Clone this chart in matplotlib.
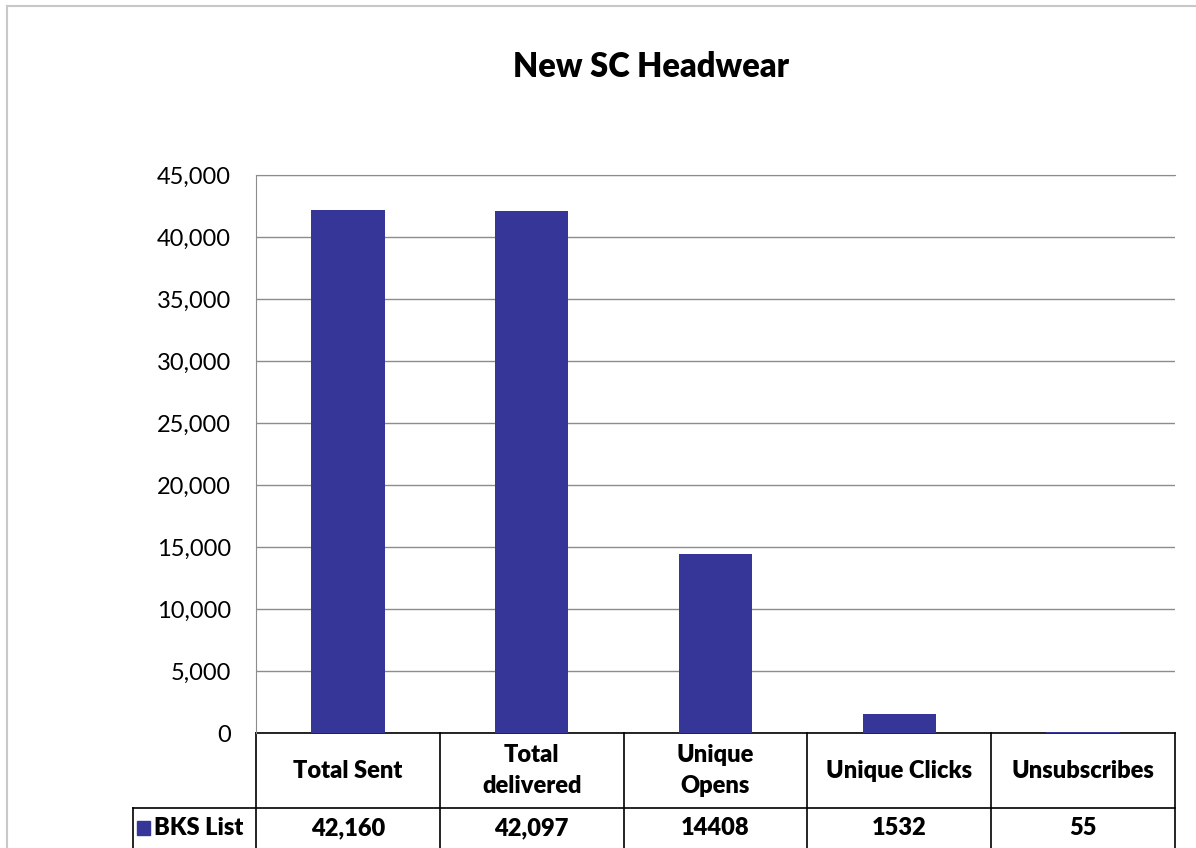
import matplotlib.pyplot as plt
from matplotlib.lines import Line2D
from matplotlib.patches import Rectangle
from matplotlib.ticker import FuncFormatter
from matplotlib.transforms import blended_transform_factory

plt.rcParams['font.family'] = ['Lato', 'DejaVu Sans']

# Data
title = "New SC Headwear"
categories = ["Total Sent", "Total\ndelivered", "Unique\nOpens", "Unique Clicks", "Unsubscribes"]
series_name = "BKS List"
values = [42160, 42097, 14408, 1532, 55]
table_labels = ["42,160", "42,097", "14408", "1532", "55"]
yticks = [0, 5000, 10000, 15000, 20000, 25000, 30000, 35000, 40000, 45000]

bar_color = "#363699"
grid_color = "#8c8c8c"
bold = 'heavy'

fig = plt.figure(figsize=(11.96, 8.48), dpi=100)

# outer chart border (only top and left visible)
fig.add_artist(Line2D([7 / 1196, 7 / 1196], [0, 1 - 6 / 848], color="#c8c8c8", lw=1.5))
fig.add_artist(Line2D([7 / 1196, 1], [1 - 6 / 848, 1 - 6 / 848], color="#c8c8c8", lw=1.5))

ax = fig.add_axes([256 / 1196, 115 / 848, 919 / 1196, 558 / 848])
x = list(range(len(categories)))
ax.bar(x, values, width=0.4, color=bar_color, zorder=3)
ax.set_xlim(-0.5, len(categories) - 0.5)
ax.set_ylim(0, 45000)
ax.set_yticks(yticks)
ax.yaxis.set_major_formatter(FuncFormatter(lambda v, p: f"{int(v):,}"))
ax.grid(axis='y', color=grid_color, lw=1, zorder=0)
ax.set_xticks([])
ax.tick_params(axis='y', length=0, pad=18, labelsize=17)
for s in ['right', 'bottom']:
    ax.spines[s].set_visible(False)
ax.spines['left'].set_color(grid_color)
ax.spines['top'].set_color(grid_color)

fig.text(651 / 1196, 1 - 67 / 848, title, ha='center', va='center',
         fontsize=23.5, fontweight=bold)

# data table under the plot
tr = blended_transform_factory(ax.transData, ax.transAxes)
px = 558.0  # axes height in pixels
colw = 919.0 / len(categories)
h1 = -75 / px
h2 = -125 / px
left_cell = -0.5 + (133 - 256) / colw
right = len(categories) - 0.5
lk = dict(color='black', lw=1.2, transform=tr, clip_on=False)

ax.add_line(Line2D([-0.5, right], [0, 0], **lk))
ax.add_line(Line2D([left_cell, right], [h1, h1], **lk))
ax.add_line(Line2D([left_cell, left_cell], [h1, h2], **lk))
for i in range(len(categories) + 1):
    xv = -0.5 + i
    ax.add_line(Line2D([xv, xv], [0, h2], **lk))

for i, (cat, lab) in enumerate(zip(categories, table_labels)):
    ax.text(i, -37.5 / px, cat, transform=tr, ha='center', va='center',
            fontsize=17, fontweight=bold, linespacing=1.5)
    ax.text(i, -95 / px, lab, transform=tr, ha='center', va='center',
            fontsize=17, fontweight=bold)

ax.add_patch(Rectangle((-0.5 + (137 - 256) / colw, -102 / px), 13 / colw, 14 / px,
                       transform=tr, color=bar_color, clip_on=False))
ax.text(-0.5 + (154 - 256) / colw, -95 / px, series_name, transform=tr,
        ha='left', va='center', fontsize=17, fontweight=bold)

fig.savefig("out.png", dpi=100)
